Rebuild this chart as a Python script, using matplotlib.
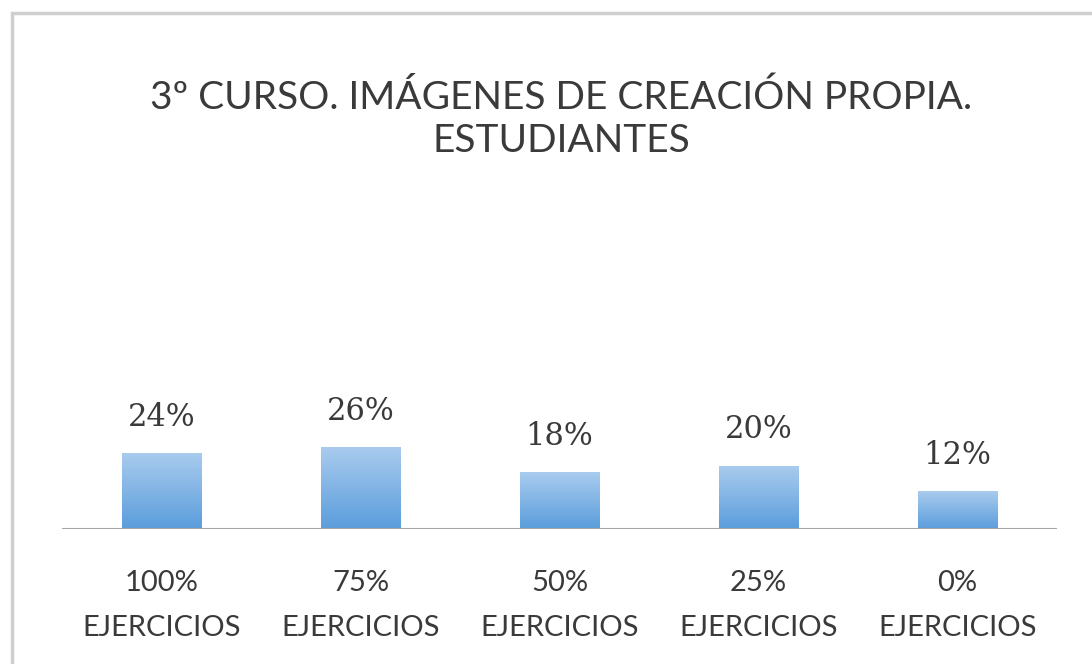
import numpy as np
import matplotlib
matplotlib.use("Agg")
from matplotlib import pyplot as plt
from matplotlib.patches import Rectangle

# chart data
categories = ["100%", "75%", "50%", "25%", "0%"]
category_suffix = "EJERCICIOS"
values = [0.24, 0.26, 0.18, 0.20, 0.12]
value_labels = ["24%", "26%", "18%", "20%", "12%"]
title = "3º CURSO. IMÁGENES DE CREACIÓN PROPIA.\nESTUDIANTES"

W, H = 1092, 664
fig = plt.figure(figsize=(W / 100, H / 100), dpi=100)
fig.patch.set_facecolor("white")

# outer chart frame (cut off on right and bottom like the source)
fig.add_artist(Rectangle((12 / W, -0.05), 1.2, 1 - 13 / H + 0.05,
                         transform=fig.transFigure, fill=False,
                         edgecolor="#cfcfcf", linewidth=2.5))

# plot area: baseline at y=529px, 315px tall for 0..100%
ax = fig.add_axes([62 / W, (H - 529) / H, 995 / W, 315 / H])
ax.axis("off")
ax.axhline(0, color="#a6a6a6", linewidth=1.5, zorder=3)

# vertical gradient for bars
grad = np.linspace(0, 1, 256).reshape(-1, 1)
cmap = matplotlib.colors.LinearSegmentedColormap.from_list(
    "bar", ["#5a9ddc", "#a9cbee"])

x = np.arange(len(categories))
bars = ax.bar(x, values, width=0.4, color="none", edgecolor="none")
for b in bars:
    bx, by = b.get_x(), b.get_y()
    bw, bh = b.get_width(), b.get_height()
    im = ax.imshow(grad, cmap=cmap, aspect="auto", origin="lower",
                   extent=[bx, bx + bw, by, by + bh], zorder=2)
    im.set_clip_path(b)
ax.set_xlim(-0.5, len(categories) - 0.5)
ax.set_ylim(0, 1)

txt = "#3a3a3a"

# value labels above bars
for xi, v, lab in zip(x, values, value_labels):
    ax.annotate(lab, (xi, v), xytext=(0, 36 * 0.72), textcoords="offset points",
                ha="center", va="center", fontsize=22,
                family="DejaVu Serif", color=txt)

# category labels below axis (two lines)
for xi, c in zip(x, categories):
    ax.annotate(c, (xi, 0), xytext=(0, -54 * 0.72), textcoords="offset points",
                ha="center", va="center", fontsize=21, family="Lato",
                color=txt, annotation_clip=False)
    ax.annotate(category_suffix, (xi, 0), xytext=(0, -99 * 0.72),
                textcoords="offset points", ha="center", va="center",
                fontsize=21, family="Lato", color=txt,
                annotation_clip=False)

fig.text(561 / W, 1 - 119 / H, title, ha="center", va="center",
         fontsize=28, family="Lato", color=txt, linespacing=1.24)

fig.savefig("out.png", dpi=100)
